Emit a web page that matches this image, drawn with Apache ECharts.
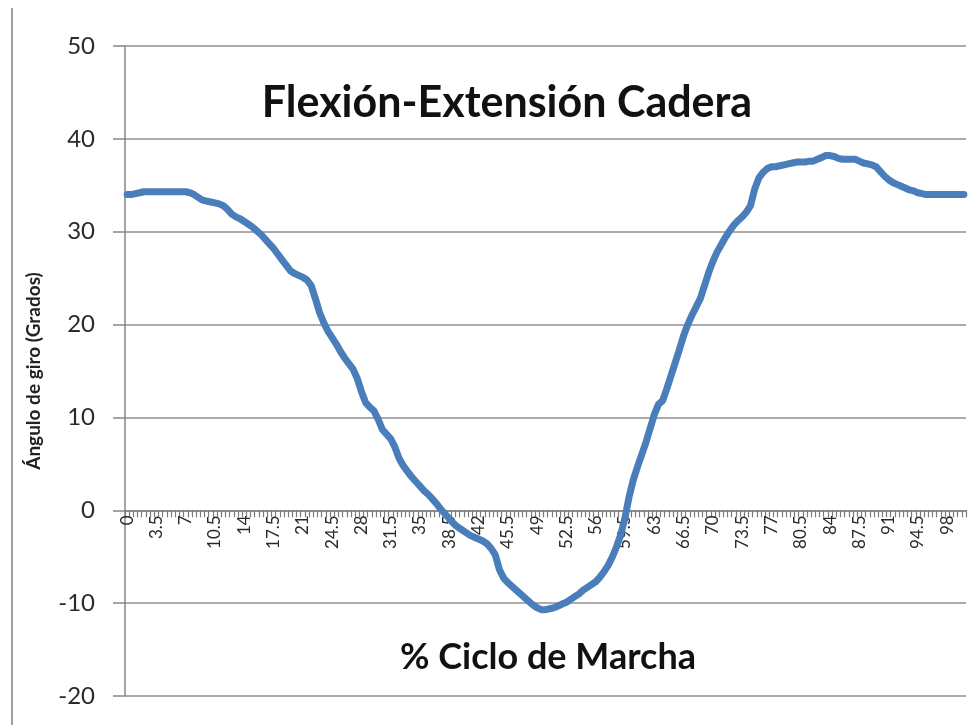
<!DOCTYPE html>
<html>
<head>
<meta charset="utf-8">
<script src="https://cdn.jsdelivr.net/npm/echarts@6/dist/echarts.min.js"></script>
<style>
html,body{margin:0;padding:0;background:#fff;}
#chart{width:974px;height:725px;}
</style>
</head>
<body>
<div id="chart"></div>
<script>
// Category labels: % of gait cycle, 0 to 100 in steps of 0.5
const categories = [];
for (let i = 0; i <= 200; i++) categories.push(String(i / 2));

// Hip flexion-extension angle (degrees), one value per category
const anguloValues = [
  34.0, 34.0, 34.1, 34.2, 34.3, 34.3, 34.3, 34.3, 34.3, 34.3,   // 0 - 4.5
  34.3, 34.3, 34.3, 34.3, 34.3, 34.2, 34.0, 33.7, 33.4, 33.3,   // 5 - 9.5
  33.2, 33.1, 33.0, 32.8, 32.4, 31.9, 31.6, 31.4, 31.1, 30.8,   // 10 - 14.5
  30.5, 30.1, 29.7, 29.2, 28.7, 28.2, 27.6, 27.0, 26.4, 25.8,   // 15 - 19.5
  25.5, 25.3, 25.1, 24.8, 24.2, 22.8, 21.3, 20.2, 19.3, 18.6,   // 20 - 24.5
  17.9, 17.1, 16.4, 15.8, 15.2, 14.2, 12.8, 11.6, 11.1, 10.7,   // 25 - 29.5
  9.8, 8.7, 8.2, 7.7, 6.8, 5.6, 4.8, 4.2, 3.6, 3.1,             // 30 - 34.5
  2.6, 2.1, 1.7, 1.2, 0.7, 0.1, -0.4, -0.9, -1.4, -1.8,         // 35 - 39.5
  -2.1, -2.4, -2.7, -2.9, -3.1, -3.3, -3.6, -4.1, -4.8, -6.4,   // 40 - 44.5
  -7.3, -7.8, -8.2, -8.6, -9.0, -9.4, -9.8, -10.2, -10.5, -10.7, // 45 - 49.5
  -10.7, -10.6, -10.5, -10.3, -10.1, -9.9, -9.6, -9.3, -9.0, -8.6, // 50 - 54.5
  -8.3, -8.0, -7.7, -7.2, -6.6, -5.9, -5.0, -3.9, -2.6, -0.8,   // 55 - 59.5
  1.5, 3.3, 4.7, 6.0, 7.3, 8.8, 10.3, 11.4, 11.8, 13.1,         // 60 - 64.5
  14.5, 15.9, 17.3, 18.8, 20.0, 21.0, 21.9, 22.8, 24.2, 25.6,   // 65 - 69.5
  26.8, 27.8, 28.6, 29.4, 30.1, 30.7, 31.2, 31.6, 32.1, 32.8,   // 70 - 74.5
  34.6, 35.8, 36.4, 36.8, 37.0, 37.0, 37.1, 37.2, 37.3, 37.4,   // 75 - 79.5
  37.5, 37.5, 37.5, 37.6, 37.6, 37.8, 38.0, 38.2, 38.2, 38.1,   // 80 - 84.5
  37.9, 37.8, 37.8, 37.8, 37.8, 37.6, 37.4, 37.3, 37.2, 37.0,   // 85 - 89.5
  36.5, 36.0, 35.6, 35.3, 35.1, 34.9, 34.7, 34.5, 34.4, 34.2,   // 90 - 94.5
  34.1, 34.0, 34.0, 34.0, 34.0, 34.0, 34.0, 34.0, 34.0, 34.0,   // 95 - 99.5
  34.0                                                          // 100
];

const yMin = -20, yMax = 50, yStep = 10;
const chartTitle = 'Flexión-Extensión Cadera';
const xTitle = '% Ciclo de Marcha';
const yTitle = 'Ángulo de giro (Grados)';

const FONT = 'Lato, "Open Sans", sans-serif';
const GRID_L = 125, GRID_R = 8, GRID_T = 46, GRID_B = 29;
const PLOT_H = 725 - GRID_T - GRID_B;
// x axis drawn where the value axis crosses zero
const xAxisOffset = -PLOT_H * (0 - yMin) / (yMax - yMin);

const chart = echarts.init(document.getElementById('chart'), null, {renderer: 'canvas'});
chart.setOption({
  animation: false,
  backgroundColor: '#ffffff',
  grid: {left: GRID_L, right: GRID_R, top: GRID_T, bottom: GRID_B, containLabel: false, outerBoundsMode: 'none'},
  xAxis: {
    type: 'category',
    data: categories,
    boundaryGap: true,
    position: 'bottom',
    offset: xAxisOffset,
    axisLine: {show: true, onZero: false, lineStyle: {color: '#868686', width: 1.5}},
    axisTick: {show: true, interval: 0, length: 7, lineStyle: {color: '#7a7a7a', width: 1.2}},
    axisLabel: {interval: 6, rotate: 90, fontFamily: FONT, fontSize: 17, color: '#2a2a2a', margin: 5},
    splitLine: {show: false}
  },
  yAxis: {
    type: 'value',
    min: yMin, max: yMax, interval: yStep,
    name: yTitle,
    nameLocation: 'middle',
    nameRotate: 90,
    nameGap: 82,
    nameTextStyle: {fontFamily: FONT, fontSize: 19, fontWeight: 'bold', color: '#222222'},
    axisLine: {show: true, onZero: false, lineStyle: {color: '#868686', width: 1.5}},
    axisTick: {show: true, length: 12, lineStyle: {color: '#868686', width: 1.5}},
    axisLabel: {fontFamily: FONT, fontSize: 24, color: '#2a2a2a', margin: 30},
    splitLine: {show: true, lineStyle: {color: '#8f8f8f', width: 1.5}}
  },
  series: [{
    type: 'line',
    data: anguloValues,
    showSymbol: false,
    smooth: false,
    lineStyle: {color: '#4A7EBB', width: 7, cap: 'round', join: 'round'},
    itemStyle: {color: '#4A7EBB'}
  }],
  graphic: [
    {type: 'line', shape: {x1: 12, y1: 8, x2: 12, y2: 725}, style: {stroke: '#a0a0a0', lineWidth: 2}},
    {type: 'text', x: 507, y: 103, style: {text: chartTitle, fontFamily: FONT, fontSize: 43, fontWeight: 'bold', fill: '#111111', textAlign: 'center', textVerticalAlign: 'middle'}},
    {type: 'text', x: 548, y: 657, style: {text: xTitle, fontFamily: FONT, fontSize: 36, fontWeight: 'bold', fill: '#111111', textAlign: 'center', textVerticalAlign: 'middle'}}
  ]
});
</script>
</body>
</html>
